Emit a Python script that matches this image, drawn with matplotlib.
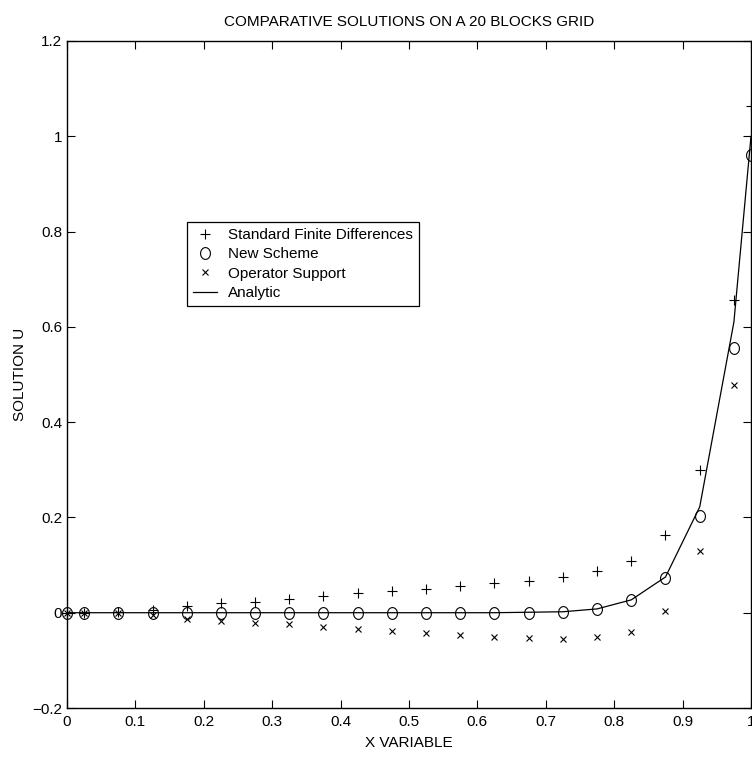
import numpy as np
import matplotlib
matplotlib.use("Agg")
import matplotlib.pyplot as plt
from matplotlib.path import Path

plt.rcParams["font.family"] = ["Liberation Sans", "DejaVu Sans"]

# grid: the boundaries plus the 20 block centres
x_grid = [0.0, 0.025, 0.075, 0.125, 0.175, 0.225, 0.275, 0.325, 0.375, 0.425,
          0.475, 0.525, 0.575, 0.625, 0.675, 0.725, 0.775, 0.825, 0.875,
          0.925, 0.975, 1.0]

u_standard = [0.0, 0.0, 0.002, 0.006, 0.015, 0.020, 0.023, 0.029, 0.036, 0.041,
              0.045, 0.050, 0.056, 0.062, 0.067, 0.075, 0.087, 0.109, 0.164,
              0.300, 0.656, 1.064]

u_new = [0.0, 0.0, 0.0, 0.0, 0.0, 0.0, 0.0, 0.0, 0.0, 0.0,
         0.0, 0.0, 0.0, 0.0, 0.0, 0.002, 0.008, 0.027, 0.072,
         0.204, 0.555, 0.960]

x_operator = x_grid[:-1]
u_operator = [0.0, 0.0, -0.001, -0.005, -0.014, -0.017, -0.021, -0.024, -0.029,
              -0.034, -0.038, -0.042, -0.047, -0.050, -0.053, -0.055, -0.052,
              -0.040, 0.004, 0.130, 0.478]

u_analytic = [0.0, 0.0, 0.0, 0.0, 0.0, 0.0, 0.0, 0.0, 0.0, 0.0,
              0.0, 0.0, 0.0, 0.0, 0.001, 0.002, 0.008, 0.027, 0.075,
              0.222, 0.610, 1.0]

x_ticks = [0, 0.1, 0.2, 0.3, 0.4, 0.5, 0.6, 0.7, 0.8, 0.9, 1.0]
y_ticks = [-0.2, 0, 0.2, 0.4, 0.6, 0.8, 1.0, 1.2]

# the source picture is a bit stretched vertically, so the circles are ellipses
t = np.linspace(0, 2 * np.pi, 60)
ellipse = Path(np.column_stack([np.cos(t), 1.2 * np.sin(t)]), closed=True)

fig = plt.figure(figsize=(7.52, 7.58), dpi=100)
ax = fig.add_axes([67 / 752, 50 / 758, 684 / 752, 667 / 758])

ax.plot(x_grid, u_standard, linestyle="none", marker="+", markersize=7,
        markeredgewidth=0.8, color="black", clip_on=False,
        label="Standard Finite Differences")
ax.plot(x_grid, u_new, linestyle="none", marker=ellipse, markersize=8.5,
        markeredgewidth=0.8, markerfacecolor="none", color="black",
        clip_on=False, label="New Scheme")
ax.plot(x_operator, u_operator, linestyle="none", marker="x", markersize=5,
        markeredgewidth=0.8, color="black", clip_on=False,
        label="Operator Support")
ax.plot(x_grid, u_analytic, linestyle="-", linewidth=0.9, color="black",
        clip_on=False, label="Analytic")

ax.set_xlim(0, 1)
ax.set_ylim(-0.2, 1.2)
ax.set_xticks(x_ticks)
ax.set_yticks(y_ticks)
ax.set_xticklabels(["%g" % v for v in x_ticks])
ax.set_yticklabels(["\u2212%g" % -v if v < 0 else "%g" % v for v in y_ticks])

ax.tick_params(direction="in", length=6, width=0.8, top=True, right=True,
               labelsize=11)
ax.tick_params(axis="x", pad=5)
ax.tick_params(axis="y", pad=3.5)
for sp in ax.spines.values():
    sp.set_linewidth(1.0)

ax.set_title("COMPARATIVE SOLUTIONS ON A 20 BLOCKS GRID", fontsize=11, pad=10.5)
ax.set_xlabel("X VARIABLE", fontsize=11)
ax.set_ylabel("SOLUTION U", fontsize=11)
ax.xaxis.set_label_coords(0.5, -0.042)
ax.yaxis.set_label_coords(-0.058, 0.5)

leg = ax.legend(loc="upper left", bbox_to_anchor=(0.175, 0.729),
                borderaxespad=0, fontsize=11, fancybox=False, framealpha=1,
                edgecolor="black", handlelength=1.6, handletextpad=0.7,
                labelspacing=0.35, borderpad=0.4)
leg.get_frame().set_linewidth(0.9)

fig.savefig("out.png", dpi=100)
